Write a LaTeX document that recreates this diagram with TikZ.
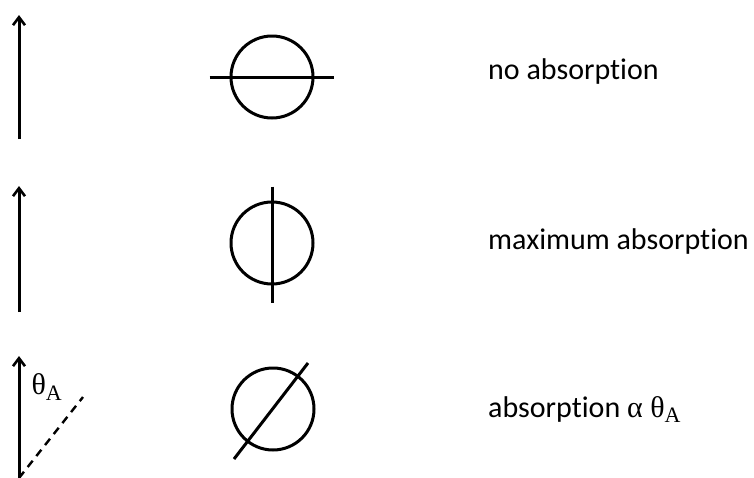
\documentclass[tikz,border=0pt]{standalone}
\usepackage{fontspec}
\setmainfont[Ligatures={NoCommon}]{Carlito}
\newfontfamily\greekfont{Liberation Serif}
\usetikzlibrary{arrows.meta,positioning,calc}
\tikzset{
  base/.style={font=\fontsize{30}{34}\selectfont, inner sep=0pt, text=black},
  polar/.style={circle, draw=black, line width=3pt, minimum size=82pt, inner sep=0pt},
  stick/.style={line width=3pt, draw=black},
  ray/.style={-{Straight Barb[length=8pt,width=12pt,line width=2.6pt]}, line width=3pt, draw=black},
  tilt/.style={line width=2.4pt, draw=black, dash pattern=on 8pt off 6pt},
  lbl/.style={base, anchor=base west},
}
\begin{document}
\begin{tikzpicture}[x=1pt,y=-1pt]
  \useasboundingbox (0,0) rectangle (754,477);
  % polarisation arrows
  \coordinate (r1a) at (19,139);  \coordinate (r1b) at (19,15);
  \coordinate (r2a) at (19,312);  \coordinate (r2b) at (19,186);
  \coordinate (r3a) at (19,478);  \coordinate (r3b) at (19,356);
  \draw[ray] (r1a) -- (r1b);
  \draw[ray] (r2a) -- (r2b);
  \draw[ray] (r3a) -- (r3b);
  \coordinate (tend) at (83,397);
  \draw[tilt] (r3a) -- (tend);
  \node[font=\greekfont\fontsize{30}{34}\selectfont, inner sep=0pt] (theta) at (47,387) {θ\textsubscript{\fontsize{22}{26}\selectfont A}};
  % molecules
  \node[polar] (m1) at (272,77) {};
  \node[polar] (m2) at (272,243) {};
  \node[polar] (m3) at (273,409) {};
  \draw[stick] ($(m1.west)+(-20,0)$) -- ($(m1.east)+(19,0)$);
  \draw[stick] ($(m2.north)+(0,-14)$) -- ($(m2.south)+(0,17)$);
  \draw[stick] ($(m3)+(-39,50)$) -- ($(m3)+(35,-46)$);
  % labels
  \node[lbl] (t1) at (488,79) {no absorption};
  \node[lbl] (t2) at (488,249) {maximum absorption};
  \node[lbl] (t3) at (488,417) {absorption {\greekfont α θ\textsubscript{\fontsize{22}{26}\selectfont A}}};
\end{tikzpicture}
\end{document}
